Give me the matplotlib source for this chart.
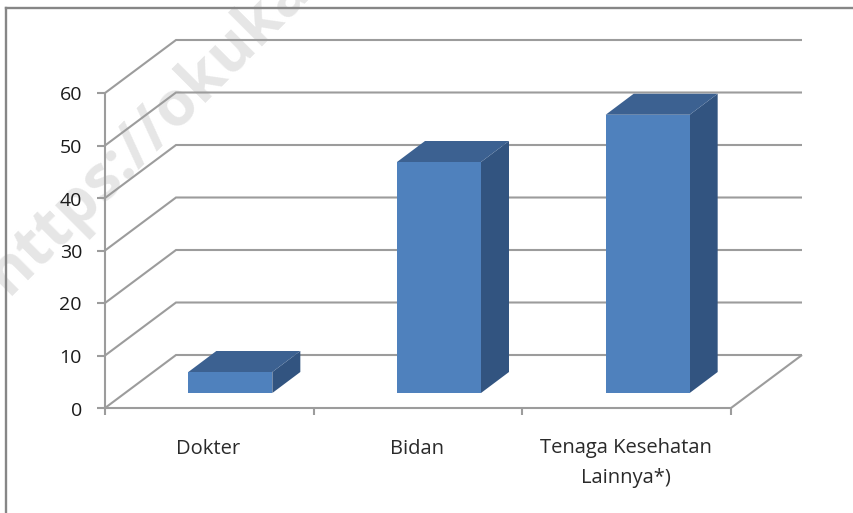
import matplotlib
matplotlib.use("Agg")
import matplotlib.pyplot as plt
from matplotlib.patches import Polygon
from matplotlib.lines import Line2D

categories = ["Dokter", "Bidan", "Tenaga Kesehatan\nLainnya*)"]
values = [4, 44, 53]
y_ticks = [0, 10, 20, 30, 40, 50, 60]

W, H = 854, 513
plt.rcParams['font.family'] = ['Open Sans', 'DejaVu Sans']
fig = plt.figure(figsize=(W / 100, H / 100), dpi=100)

# plot box in pixels: x 105..731, y 408..93
ax = fig.add_axes([105 / W, 1 - 408 / H, 626 / W, 315 / H])
ax.set_xlim(0, 3)
ax.set_ylim(0, 60)
ax.patch.set_visible(False)
for s in ax.spines.values():
    s.set_visible(False)
ax.set_xticks([])
ax.set_yticks([])

GRID = '#9c9c9c'
LW = 1.5
px_x = 3 / 626
px_y = 60 / 315
DX = 71 * px_x
DY = 53 * px_y

# chart frame (left and top edges only reach the picture)
fig.add_artist(Line2D([6.5 / W, 6.5 / W], [0, 1 - 8 / H], color='#868686', lw=1.7))
fig.add_artist(Line2D([6 / W, 1], [1 - 8 / H, 1 - 8 / H], color='#868686', lw=1.7))

# watermark, behind the axes
fig.text(8 / W, 1 - 296 / H, "https://okuka", fontsize=45, fontweight='bold',
         color='#e6e6e6', rotation=45, rotation_mode='anchor', ha='left', va='baseline',
         family=['Open Sans', 'DejaVu Sans'], zorder=-1)

kw = dict(color=GRID, lw=LW, clip_on=False, solid_capstyle='butt', solid_joinstyle='miter')
# walls and gridlines
for t in y_ticks:
    ax.plot([0, DX, 3 + DX], [t, t + DY, t + DY], zorder=1, **kw)
# floor
ax.plot([3, 3 + DX], [0, DY], zorder=1, **kw)
ax.plot([0, 3], [0, 0], zorder=2, **kw)
ax.plot([0, 0], [0, 60], zorder=2, **kw)

# ticks
for t in y_ticks:
    ax.plot([-8 * px_x, 0], [t, t], zorder=2, **kw)
    ax.text(-23 * px_x, t - 2.5 * px_y, str(t), ha='right', va='center', fontsize=14, color='#1a1a1a')
for i in range(len(categories) + 1):
    ax.plot([i, i], [0, -7 * px_y], zorder=2, **kw)

# bars
bar_w = 84 * px_x
off_x, off_y = 21 * px_x, 15 * px_y
dep_x, dep_y = 28 * px_x, 21 * px_y
for i, (c, v) in enumerate(zip(categories, values)):
    x0 = i + 0.5 - bar_w / 2 + off_x
    x1 = x0 + bar_w
    y0 = off_y
    y1 = y0 + v
    ax.add_patch(Polygon([(x1, y0), (x1 + dep_x, y0 + dep_y), (x1 + dep_x, y1 + dep_y), (x1, y1)],
                         facecolor='#325480', edgecolor='none', zorder=3, clip_on=False))
    ax.add_patch(Polygon([(x0, y1), (x1, y1), (x1 + dep_x, y1 + dep_y), (x0 + dep_x, y1 + dep_y)],
                         facecolor='#3c6191', edgecolor='none', zorder=3, clip_on=False))
    ax.add_patch(Polygon([(x0, y0), (x1, y0), (x1, y1), (x0, y1)],
                         facecolor='#4f81bd', edgecolor='none', zorder=4, clip_on=False))
    ax.text(i + 0.5 - 1 * px_x, -30.5 * px_y, c, ha='center', va='top', fontsize=14.5, color='#2a2a2a',
            linespacing=1.6)

fig.savefig("out.png", dpi=100)
